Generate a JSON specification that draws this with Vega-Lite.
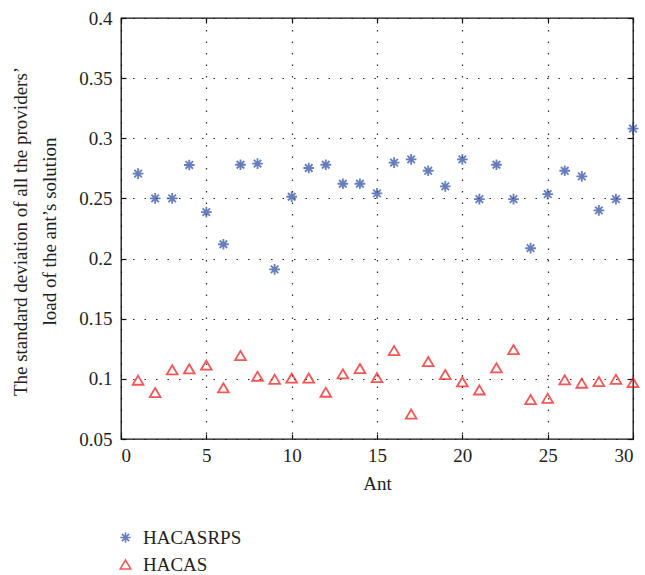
{
  "$schema": "https://vega.github.io/schema/vega-lite/v6.json",
  "width": 512,
  "height": 421,
  "autosize": {"type": "none"},
  "padding": {"left": 121, "top": 18, "right": 12, "bottom": 136},
  "background": "white",
  "config": {
    "font": "Liberation Serif",
    "view": {"stroke": "#111", "strokeWidth": 1.3},
    "axis": {
      "domain": false,
      "tickColor": "#111",
      "tickSize": -5,
      "tickWidth": 1.2,
      "labelFont": "Liberation Serif",
      "labelFontSize": 19,
      "labelColor": "#231f20",
      "titleFont": "Liberation Serif",
      "titleFontSize": 19,
      "titleFontWeight": "normal",
      "titleColor": "#231f20",
      "gridColor": "#111",
      "gridDash": [1.5, 10],
      "gridWidth": 1.2,
      "gridOpacity": 0.9
    },
    "legend": {"labelFontSize": 19, "labelFont": "Liberation Serif", "labelColor": "#231f20"}
  },
  "data": {
    "values": [
      {"ant": 1, "series": "HACASRPS", "value": 0.2706},
      {"ant": 2, "series": "HACASRPS", "value": 0.2500},
      {"ant": 3, "series": "HACASRPS", "value": 0.2500},
      {"ant": 4, "series": "HACASRPS", "value": 0.2778},
      {"ant": 5, "series": "HACASRPS", "value": 0.2386},
      {"ant": 6, "series": "HACASRPS", "value": 0.2119},
      {"ant": 7, "series": "HACASRPS", "value": 0.2780},
      {"ant": 8, "series": "HACASRPS", "value": 0.2790},
      {"ant": 9, "series": "HACASRPS", "value": 0.1910},
      {"ant": 10, "series": "HACASRPS", "value": 0.2514},
      {"ant": 11, "series": "HACASRPS", "value": 0.2753},
      {"ant": 12, "series": "HACASRPS", "value": 0.2780},
      {"ant": 13, "series": "HACASRPS", "value": 0.2622},
      {"ant": 14, "series": "HACASRPS", "value": 0.2622},
      {"ant": 15, "series": "HACASRPS", "value": 0.2542},
      {"ant": 16, "series": "HACASRPS", "value": 0.2797},
      {"ant": 17, "series": "HACASRPS", "value": 0.2825},
      {"ant": 18, "series": "HACASRPS", "value": 0.2730},
      {"ant": 19, "series": "HACASRPS", "value": 0.2600},
      {"ant": 20, "series": "HACASRPS", "value": 0.2825},
      {"ant": 21, "series": "HACASRPS", "value": 0.2494},
      {"ant": 22, "series": "HACASRPS", "value": 0.2780},
      {"ant": 23, "series": "HACASRPS", "value": 0.2494},
      {"ant": 24, "series": "HACASRPS", "value": 0.2086},
      {"ant": 25, "series": "HACASRPS", "value": 0.2536},
      {"ant": 26, "series": "HACASRPS", "value": 0.2730},
      {"ant": 27, "series": "HACASRPS", "value": 0.2683},
      {"ant": 28, "series": "HACASRPS", "value": 0.2400},
      {"ant": 29, "series": "HACASRPS", "value": 0.2494},
      {"ant": 30, "series": "HACASRPS", "value": 0.3080},
      {"ant": 1, "series": "HACAS", "value": 0.0989},
      {"ant": 2, "series": "HACAS", "value": 0.0886},
      {"ant": 3, "series": "HACAS", "value": 0.1075},
      {"ant": 4, "series": "HACAS", "value": 0.1083},
      {"ant": 5, "series": "HACAS", "value": 0.1114},
      {"ant": 6, "series": "HACAS", "value": 0.0925},
      {"ant": 7, "series": "HACAS", "value": 0.1194},
      {"ant": 8, "series": "HACAS", "value": 0.1022},
      {"ant": 9, "series": "HACAS", "value": 0.0997},
      {"ant": 10, "series": "HACAS", "value": 0.1006},
      {"ant": 11, "series": "HACAS", "value": 0.1006},
      {"ant": 12, "series": "HACAS", "value": 0.0889},
      {"ant": 13, "series": "HACAS", "value": 0.1042},
      {"ant": 14, "series": "HACAS", "value": 0.1086},
      {"ant": 15, "series": "HACAS", "value": 0.1010},
      {"ant": 16, "series": "HACAS", "value": 0.1236},
      {"ant": 17, "series": "HACAS", "value": 0.0708},
      {"ant": 18, "series": "HACAS", "value": 0.1144},
      {"ant": 19, "series": "HACAS", "value": 0.1036},
      {"ant": 20, "series": "HACAS", "value": 0.0975},
      {"ant": 21, "series": "HACAS", "value": 0.0908},
      {"ant": 22, "series": "HACAS", "value": 0.1092},
      {"ant": 23, "series": "HACAS", "value": 0.1244},
      {"ant": 24, "series": "HACAS", "value": 0.0828},
      {"ant": 25, "series": "HACAS", "value": 0.0839},
      {"ant": 26, "series": "HACAS", "value": 0.0992},
      {"ant": 27, "series": "HACAS", "value": 0.0964},
      {"ant": 28, "series": "HACAS", "value": 0.0978},
      {"ant": 29, "series": "HACAS", "value": 0.0997},
      {"ant": 30, "series": "HACAS", "value": 0.0969}
    ]
  },
  "layer": [
    {
      "mark": {"type": "point", "filled": false, "strokeWidth": 1.8, "size": 115, "clip": false},
      "encoding": {
        "x": {
          "field": "ant", "type": "quantitative",
          "scale": {"domain": [0, 30], "nice": false, "zero": false},
          "axis": {"orient": "bottom", "values": [0, 5, 10, 15, 20, 25, 30], "grid": true, "title": "Ant",
            "labelFont": "Liberation Serif", "labelFontSize": 19, "titleFont": "Liberation Serif", "titleFontSize": 19,
            "labelPadding": 12, "titlePadding": 9}
        },
        "y": {
          "field": "value", "type": "quantitative",
          "scale": {"domain": [0.05, 0.4], "nice": false, "zero": false},
          "axis": {
            "orient": "left",
            "values": [0.05, 0.1, 0.15, 0.2, 0.25, 0.3, 0.35, 0.4],
            "format": ".2~f",
            "grid": true,
            "labelFont": "Liberation Serif", "labelFontSize": 19, "titleFont": "Liberation Serif", "titleFontSize": 19,
            "labelPadding": 14,
            "title": ["The standard deviation of all the providers’", "load of the ant’s solution"],
            "titleAngle": -90,
            "titleBaseline": "top",
            "titleAlign": "center",
            "titleLineHeight": 29,
            "titleX": -110,
            "titleY": 213
          }
        },
        "shape": {
          "field": "series", "type": "nominal",
          "scale": {"domain": ["HACASRPS", "HACAS"], "range": ["M0,-1L0,1M-1,0L1,0M-0.7,-0.7L0.7,0.7M-0.7,0.7L0.7,-0.7", "M0,-0.85L1,0.85L-1,0.85Z"]},
          "legend": {
            "orient": "none", "legendX": -5, "legendY": 510, "title": null,
            "labelFontSize": 19, "labelFont": "Liberation Serif", "labelColor": "#231f20",
            "symbolSize": 110, "symbolStrokeWidth": 1.6, "rowPadding": 7, "labelOffset": 8
          }
        },
        "color": {
          "field": "series", "type": "nominal",
          "scale": {"domain": ["HACASRPS", "HACAS"], "range": ["#2848a0", "#ee1111"]},
          "legend": {
            "orient": "none", "legendX": -5, "legendY": 510, "title": null,
            "labelFontSize": 19, "labelFont": "Liberation Serif", "labelColor": "#231f20",
            "symbolSize": 110, "symbolStrokeWidth": 1.6, "rowPadding": 7, "labelOffset": 8
          }
        }
      }
    },
    {
      "mark": {"type": "point", "opacity": 0},
      "encoding": {
        "x": {"field": "ant", "type": "quantitative", "axis": {"orient": "top", "values": [0, 5, 10, 15, 20, 25, 30], "labels": false, "grid": false, "title": null}},
        "y": {"field": "value", "type": "quantitative", "axis": {"orient": "right", "values": [0.05, 0.1, 0.15, 0.2, 0.25, 0.3, 0.35, 0.4], "labels": false, "grid": false, "title": null}}
      }
    }
  ],
  "resolve": {"axis": {"x": "independent", "y": "independent"}}
}
